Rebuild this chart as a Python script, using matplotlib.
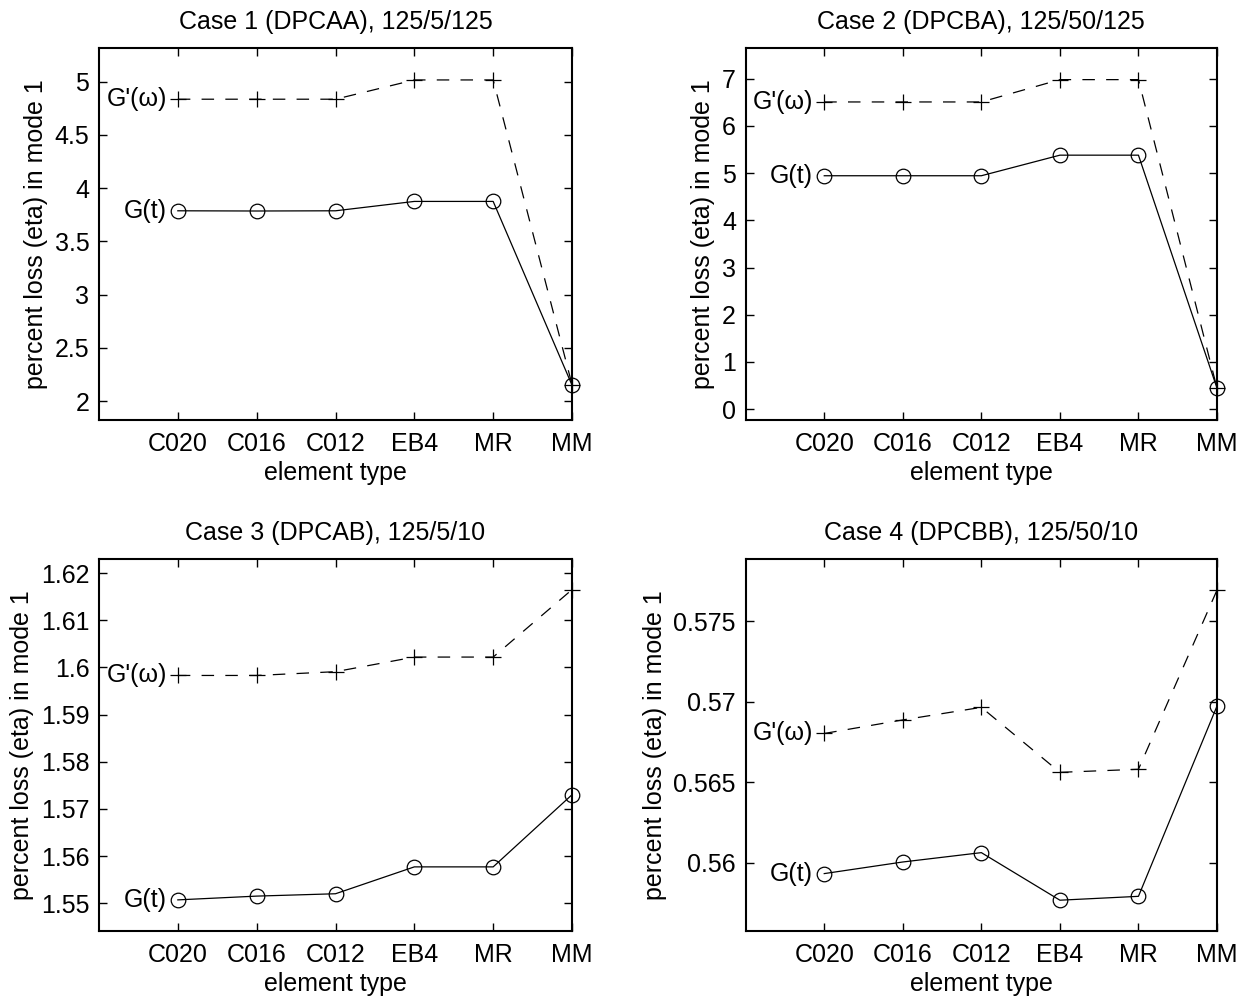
import matplotlib
matplotlib.use("Agg")
import matplotlib.pyplot as plt
from matplotlib.ticker import FixedLocator, FuncFormatter

plt.rcParams["font.family"] = ["Liberation Sans", "DejaVu Sans"]
plt.rcParams["font.size"] = 18

element_types = ["C020", "C016", "C012", "EB4", "MR", "MM"]

titles = [
    "Case 1 (DPCAA), 125/5/125",
    "Case 2 (DPCBA), 125/50/125",
    "Case 3 (DPCAB), 125/5/10",
    "Case 4 (DPCBB), 125/50/10",
]

# G'(omega) results (frequency-domain modulus), one list per case
gprime_case1 = [4.835, 4.835, 4.835, 5.016, 5.016, 2.155]
gprime_case2 = [6.507, 6.507, 6.507, 6.980, 6.980, 0.444]
gprime_case3 = [1.5983, 1.5983, 1.5991, 1.6022, 1.6022, 1.6165]
gprime_case4 = [0.56803, 0.56887, 0.56965, 0.56562, 0.56581, 0.57692]

# G(t) results (time-domain relaxation modulus), one list per case
gt_case1 = [3.787, 3.785, 3.787, 3.875, 3.875, 2.150]
gt_case2 = [4.944, 4.944, 4.944, 5.380, 5.380, 0.444]
gt_case3 = [1.5507, 1.5515, 1.5520, 1.5577, 1.5577, 1.5730]
gt_case4 = [0.55934, 0.56006, 0.56064, 0.55769, 0.55793, 0.56973]

yticks_case1 = [2, 2.5, 3, 3.5, 4, 4.5, 5]
yticks_case2 = [0, 1, 2, 3, 4, 5, 6, 7]
yticks_case3 = [1.55, 1.56, 1.57, 1.58, 1.59, 1.60, 1.61, 1.62]
yticks_case4 = [0.56, 0.565, 0.57, 0.575]

ylims = [(1.822, 5.316), (-0.23, 7.65), (1.5441, 1.6230), (0.55578, 0.57885)]

gprime_all = [gprime_case1, gprime_case2, gprime_case3, gprime_case4]
gt_all = [gt_case1, gt_case2, gt_case3, gt_case4]
yticks_all = [yticks_case1, yticks_case2, yticks_case3, yticks_case4]

fig = plt.figure(figsize=(12.49, 10), dpi=100)

W, H = 1249.0, 1000.0
boxes = [
    (99, 48, 572, 420),
    (745.7, 48, 1217, 420),
    (99, 559, 572, 931),
    (745.7, 559, 1217, 931),
]

x = list(range(1, len(element_types) + 1))

for i in range(4):
    l, t, r, b = boxes[i]
    ax = fig.add_axes([l / W, 1 - b / H, (r - l) / W, (b - t) / H])
    ax.plot(x, gprime_all[i], color="black", lw=0.9, ls=(0, (10, 9)),
            marker="+", ms=11, mew=0.9, clip_on=False, zorder=3)
    ax.plot(x, gt_all[i], color="black", lw=0.9, ls="-",
            marker="o", ms=10.5, mew=0.9, mfc="none", clip_on=False, zorder=3)

    ax.set_xlim(0, 6)
    ax.set_ylim(*ylims[i])
    ax.xaxis.set_major_locator(FixedLocator(x))
    ax.set_xticklabels(element_types)
    ax.yaxis.set_major_locator(FixedLocator(yticks_all[i]))
    ax.yaxis.set_major_formatter(FuncFormatter(lambda v, p: "%g" % v))

    ax.tick_params(direction="in", length=6, width=1.0, top=True, right=True,
                   labelsize=18)
    ax.tick_params(axis="x", pad=9)
    ax.tick_params(axis="y", pad=7)
    for sp in ax.spines.values():
        sp.set_linewidth(1.5)

    ax.set_title(titles[i], fontsize=18, pad=14)
    ax.set_xlabel("element type", fontsize=18, labelpad=3)
    ax.set_ylabel("percent loss (eta) in mode 1", fontsize=18, labelpad=5)

    ax.annotate("G'(\u03c9)", xy=(x[0], gprime_all[i][0]), xytext=(-8, 0),
                textcoords="offset points", ha="right", va="center",
                fontsize=18, annotation_clip=False)
    ax.annotate("G(t)", xy=(x[0], gt_all[i][0]), xytext=(-8, 0),
                textcoords="offset points", ha="right", va="center",
                fontsize=18, annotation_clip=False)

fig.savefig("out.png", dpi=100)
